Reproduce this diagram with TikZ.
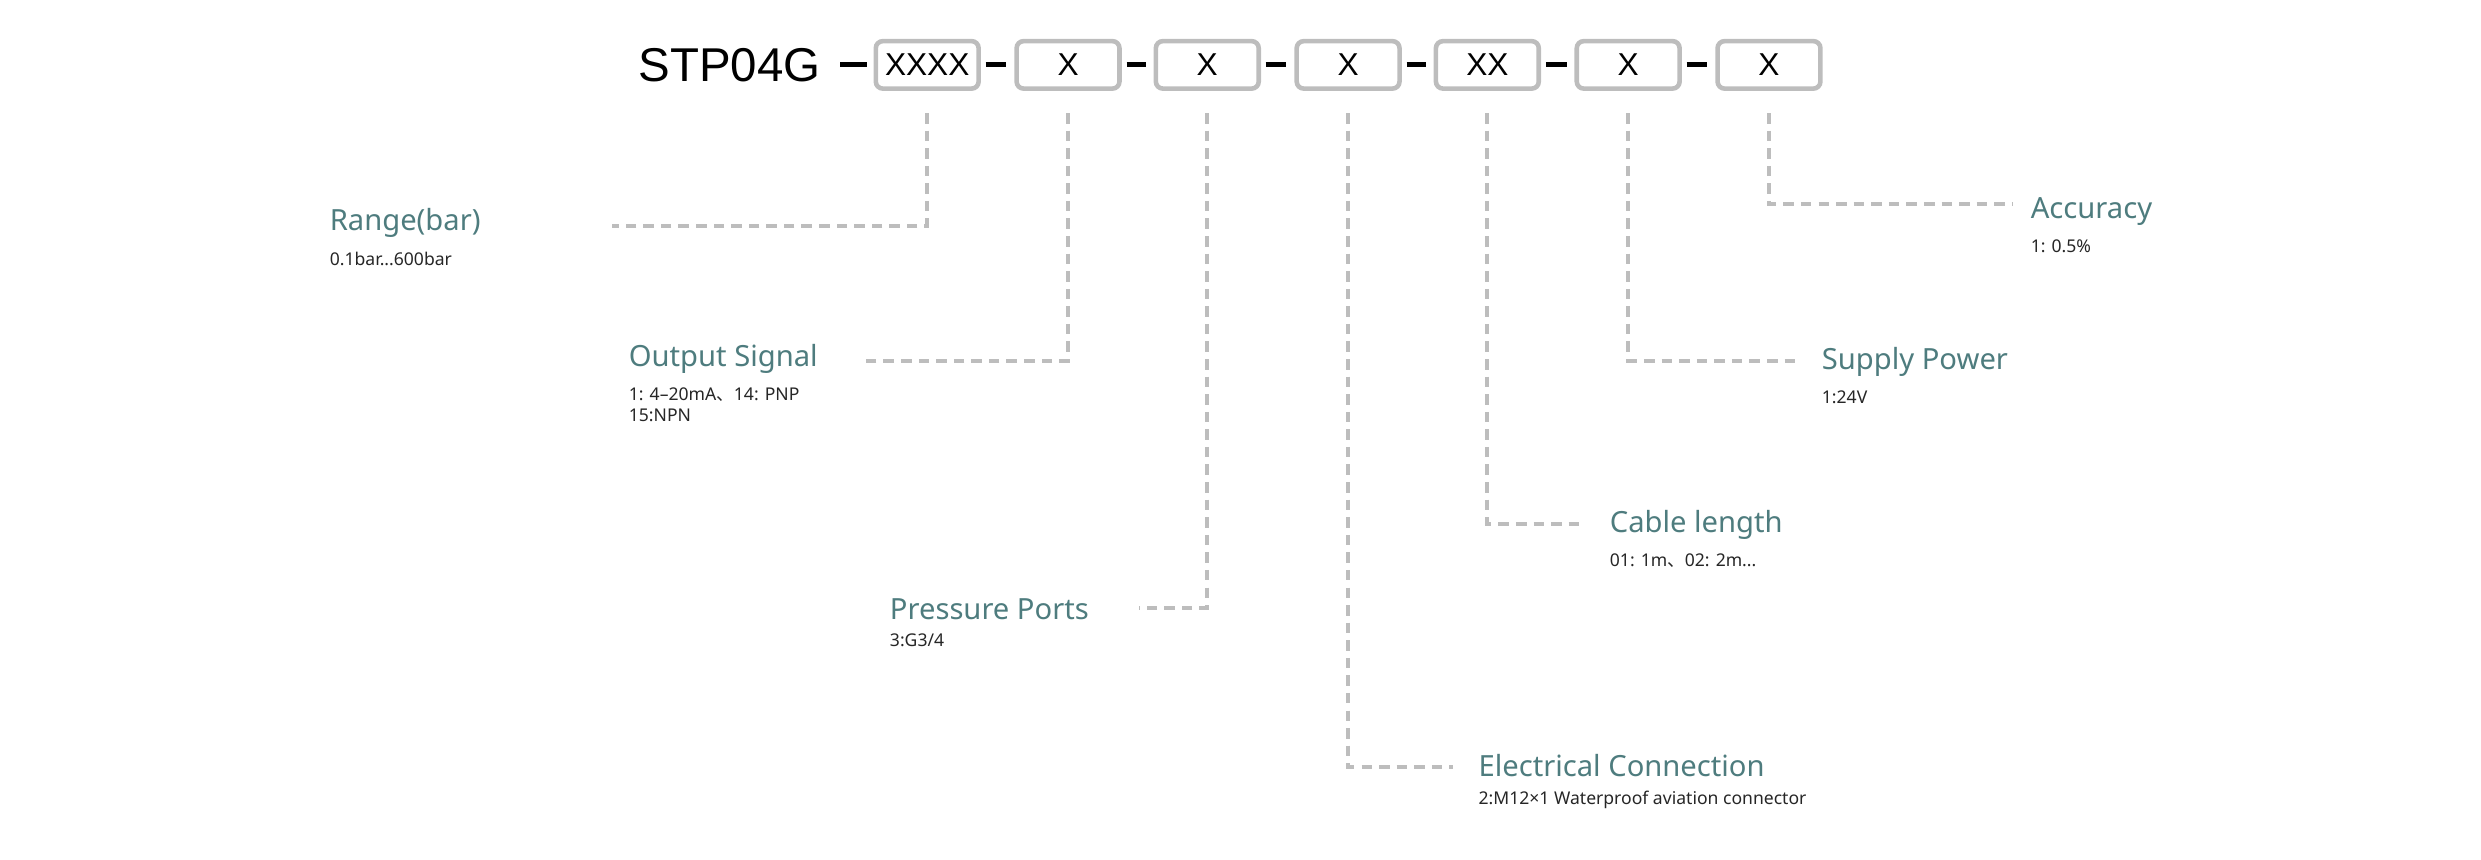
\documentclass[tikz,border=0pt]{standalone}
\usepackage{fontspec}
\setmainfont{Noto Sans}
\newfontfamily\codefont{Liberation Sans}
\newfontfamily\cjk{Noto Sans CJK SC}
\usetikzlibrary{positioning}

\definecolor{teal1}{HTML}{4E7C7E}
\definecolor{boxgray}{HTML}{BDBDBD}
\newlength{\unitlen}\setlength{\unitlen}{0.01582cm}

\begin{document}
\begin{tikzpicture}[x=0.01582cm,y=-0.01582cm,
box/.style={draw=boxgray,line width=1.3pt,rounded corners=2pt,minimum width=65\unitlen,minimum height=30\unitlen,inner sep=0pt,font=\codefont\fontsize{9}{9}\selectfont},
lead/.style={boxgray,line width=1.1pt,dash pattern=on 3pt off 2pt},
title/.style={anchor=west,inner sep=0pt,text=teal1,font=\fontsize{8.3}{9}\selectfont},
sub/.style={anchor=north west,inner sep=0pt,align=left,text=black!85,font=\fontsize{5}{6}\selectfont},
bar/.style={line width=1.4pt}]
\useasboundingbox (0,0) rectangle (1568,543);

\node[anchor=west,inner sep=0pt,font=\codefont\fontsize{13.5}{14}\selectfont] (code) at (403,41) {STP04G};
\node[box] (b1) at (586,41) {XXXX};
\node[box] (b2) at (675,41) {X};
\node[box] (b3) at (763,41) {X};
\node[box] (b4) at (852,41) {X};
\node[box] (b5) at (940,41) {XX};
\node[box] (b6) at (1029,41) {X};
\node[box] (b7) at (1118,41) {X};

% connecting dashes
\draw[bar] (531,41) -- (548,41);
\foreach \a/\b in {b1/b2,b2/b3,b3/b4,b4/b5,b5/b6,b6/b7}
  \draw[bar] ([xshift=3\unitlen]\a.east) -- ([xshift=-5\unitlen]\b.west);

% labels
\node[title] (range) at (208,141) {Range(bar)};
\node[sub] at ([yshift=-8\unitlen]range.south west) {0.1bar...600bar};
\node[title] (output) at (397,227) {Output Signal};
\node[sub] at ([yshift=-8\unitlen]output.south west) {1: 4–20mA{\cjk 、}14: PNP\\15:NPN};
\node[title] (ports) at (562,385) {Pressure Ports};
\node[sub] at ([yshift=-8\unitlen]ports.south west) {3:G3/4};
\node[title] (elec) at (934,484) {Electrical Connection};
\node[sub] at ([yshift=-8\unitlen]elec.south west) {2:M12×1 Waterproof aviation connector};
\node[title] (cable) at (1017,332) {Cable length};
\node[sub] at ([yshift=-8\unitlen]cable.south west) {01: 1m{\cjk 、}02: 2m...};
\node[title] (power) at (1151,229) {Supply Power};
\node[sub] at ([yshift=-8\unitlen]power.south west) {1:24V};
\node[title] (acc) at (1283,134) {Accuracy};
\node[sub] at ([yshift=-8\unitlen]acc.south west) {1: 0.5\%};

% leaders
\coordinate (e1) at (387,143); \coordinate (e2) at (546,228);
\coordinate (e3) at (720,384); \coordinate (e4) at (918,485);
\coordinate (e5) at (998,331); \coordinate (e6) at (1138,228);
\coordinate (e7) at (1272,129);
\draw[lead] ([yshift=-14\unitlen]b1.south) |- (e1);
\draw[lead] ([yshift=-14\unitlen]b2.south) |- (e2);
\draw[lead] ([yshift=-14\unitlen]b3.south) |- (e3);
\draw[lead] ([yshift=-14\unitlen]b4.south) |- (e4);
\draw[lead] ([yshift=-14\unitlen]b5.south) |- (e5);
\draw[lead] ([yshift=-14\unitlen]b6.south) |- (e6);
\draw[lead] ([yshift=-14\unitlen]b7.south) |- (e7);
\end{tikzpicture}
\end{document}
